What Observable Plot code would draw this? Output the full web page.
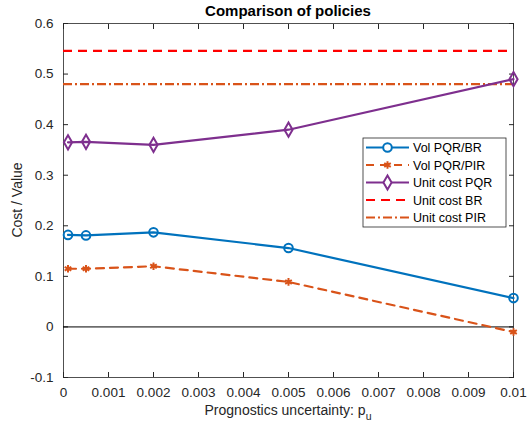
<!DOCTYPE html>
<html>
<head>
<meta charset="utf-8">
<script src="https://cdn.jsdelivr.net/npm/d3@7"></script>
<script src="https://cdn.jsdelivr.net/npm/@observablehq/plot@0.6"></script>
<style>
  body { margin: 0; background: #fff; }
  #chart svg { font-family: "Liberation Sans", Arial, Helvetica, sans-serif; }
</style>
</head>
<body>
<div id="chart"></div>
<script>
const pu = [0.0001, 0.0005, 0.002, 0.005, 0.01];
const volPQRBR = [0.182, 0.181, 0.187, 0.156, 0.057];
const volPQRPIR = [0.115, 0.115, 0.120, 0.089, -0.010];
const unitCostPQR = [0.365, 0.366, 0.360, 0.390, 0.490];
const unitCostBR = 0.546;
const unitCostPIR = 0.480;
const xTicks = [0, 0.001, 0.002, 0.003, 0.004, 0.005, 0.006, 0.007, 0.008, 0.009, 0.01];
const yTicks = [-0.1, 0, 0.1, 0.2, 0.3, 0.4, 0.5, 0.6];
const seriesNames = ["Vol PQR/BR", "Vol PQR/PIR", "Unit cost PQR", "Unit cost BR", "Unit cost PIR"];
const colors = ["#0072BD", "#D95319", "#7E2F8E", "#FF0000", "#D95319"];

const W = 531, H = 428;
const mL = 63, mR = 18, mT = 23, mB = 51;

const rows = (ys) => pu.map((x, i) => ({x, y: ys[i]}));
const axisColor = "#262626";
const fmt = d => String(+d.toFixed(4));
const blank = () => "";

const plot = Plot.plot({
  width: W, height: H,
  marginLeft: mL, marginRight: mR, marginTop: mT, marginBottom: mB,
  style: {fontFamily: "Liberation Sans, Arial, sans-serif", fontSize: "13.5px", color: axisColor, background: "#fff"},
  x: {domain: [0, 0.01]},
  y: {domain: [-0.1, 0.6]},
  marks: [
    Plot.frame({stroke: axisColor, strokeWidth: 0.8}),
    Plot.axisX({ticks: xTicks, tickSize: -5, tickFormat: blank, label: null, stroke: axisColor}),
    Plot.axisX({anchor: "top", ticks: xTicks, tickSize: -5, tickFormat: blank, label: null, stroke: axisColor}),
    Plot.axisY({ticks: yTicks, tickSize: -5, tickFormat: blank, label: null, stroke: axisColor}),
    Plot.axisY({anchor: "right", ticks: yTicks, tickSize: -5, tickFormat: blank, label: null, stroke: axisColor}),
    Plot.text(xTicks, {x: d => d, frameAnchor: "bottom", dy: 15, text: fmt, fontSize: 13.5, fill: axisColor, lineAnchor: "middle"}),
    Plot.text(yTicks, {y: d => d, frameAnchor: "left", dx: -10, text: fmt, fontSize: 13.5, fill: axisColor, textAnchor: "end"}),
    Plot.ruleY([0], {stroke: "#000", strokeWidth: 1}),
    Plot.ruleY([unitCostBR], {stroke: colors[3], strokeWidth: 2.2, strokeDasharray: "9,6"}),
    Plot.ruleY([unitCostPIR], {stroke: colors[4], strokeWidth: 2.2, strokeDasharray: "9,3,2,3"}),
    Plot.line(rows(volPQRBR), {x: "x", y: "y", stroke: colors[0], strokeWidth: 2.2}),
    Plot.dot(rows(volPQRBR), {x: "x", y: "y", stroke: colors[0], strokeWidth: 2, r: 4.3, symbol: "circle", fill: "none"}),
    Plot.line(rows(volPQRPIR), {x: "x", y: "y", stroke: colors[1], strokeWidth: 2.2, strokeDasharray: "8,6"}),
    Plot.dot(rows(volPQRPIR), {x: "x", y: "y", stroke: colors[1], strokeWidth: 2, r: 3.6, symbol: "asterisk"}),
    Plot.line(rows(unitCostPQR), {x: "x", y: "y", stroke: colors[2], strokeWidth: 2.2}),
    Plot.dot(rows(unitCostPQR), {x: "x", y: "y", stroke: colors[2], strokeWidth: 2, r: 4.3, symbol: "diamond", fill: "none"})
  ]
});

document.getElementById("chart").appendChild(plot);

const svg = d3.select(plot);
const xs = plot.scale("x"), ys = plot.scale("y");
const cx = (xs.range[0] + xs.range[1]) / 2;

// Title
svg.append("text").attr("x", cx).attr("y", 16).attr("text-anchor", "middle")
  .attr("font-size", 15).attr("font-weight", "bold").attr("fill", "#000")
  .text("Comparison of policies");

// Y label
svg.append("text").attr("transform", `translate(22,${(ys.range[0] + ys.range[1]) / 2}) rotate(-90)`)
  .attr("text-anchor", "middle").attr("font-size", 14).attr("fill", axisColor)
  .text("Cost / Value");

// X label with subscript
const xl = svg.append("text").attr("x", cx).attr("y", 415).attr("text-anchor", "middle")
  .attr("font-size", 14).attr("fill", axisColor);
xl.append("tspan").text("Prognostics uncertainty: p");
xl.append("tspan").attr("dy", 5).attr("font-size", 10.5).text("u");

// Legend
const lg = svg.append("g");
const lx = 363, ly = 138, lw = 143, lh = 89;
lg.append("rect").attr("x", lx).attr("y", ly).attr("width", lw).attr("height", lh)
  .attr("fill", "#fff").attr("stroke", axisColor).attr("stroke-width", 0.8);
const dashes = [null, "8,6", null, "9,6", "9,3,2,3"];
const symbols = [d3.symbolCircle, d3.symbolAsterisk, d3.symbolDiamond, null, null];
const sizes = [58, 40, 58, 0, 0];
seriesNames.forEach((name, i) => {
  const yy = ly + 9.5 + i * 17.5;
  lg.append("line").attr("x1", lx + 3).attr("x2", lx + 46).attr("y1", yy).attr("y2", yy)
    .attr("stroke", colors[i]).attr("stroke-width", 2.2).attr("stroke-dasharray", dashes[i]);
  if (symbols[i]) {
    lg.append("path").attr("transform", `translate(${lx + 24.5},${yy})`)
      .attr("d", d3.symbol(symbols[i], sizes[i])())
      .attr("fill", i === 1 ? colors[i] : "#fff").attr("stroke", colors[i]).attr("stroke-width", 2);
  }
  lg.append("text").attr("x", lx + 50).attr("y", yy + 4.5).attr("font-size", 12.5)
    .attr("text-anchor", "start").attr("fill", "#000").text(name);
});
</script>
</body>
</html>
